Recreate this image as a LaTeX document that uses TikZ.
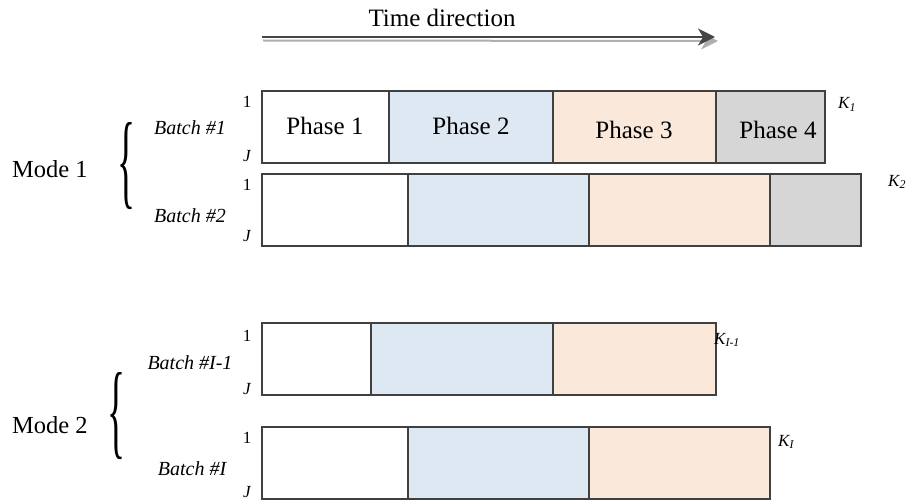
\documentclass[tikz,border=0pt]{standalone}
\usepackage{fontspec}
\usepackage{graphicx}
\setmainfont{Liberation Serif}
\usetikzlibrary{arrows.meta}

\definecolor{edge}{RGB}{64,64,64}
\definecolor{cellblue}{RGB}{222,232,242}
\definecolor{cellpeach}{RGB}{250,233,219}
\definecolor{cellgray}{RGB}{214,214,214}
\definecolor{arrowdark}{RGB}{70,70,70}
\definecolor{arrowshade}{RGB}{175,175,175}

\begin{document}
\begin{tikzpicture}[x=1pt,y=-1pt,
  cell/.style={draw=edge, line width=1.4pt},
  phase/.style={font=\fontsize{25}{28}\selectfont, anchor=base, inner sep=0pt},
  idx/.style={font=\fontsize{17}{20}\selectfont, anchor=base, inner sep=0pt},
  batch/.style={font=\fontsize{20}{24}\selectfont\itshape, anchor=base, inner sep=0pt},
  klabel/.style={font=\fontsize{17}{20}\selectfont\itshape, anchor=base west, inner sep=0pt},
  mode/.style={font=\fontsize{24.5}{28}\selectfont, anchor=base west, inner sep=0pt},
  brace/.style={inner sep=0pt, font=\fontsize{66}{66}\selectfont},
  timeline/.style={line width=2.2pt, draw=arrowdark,
    -{Stealth[length=17pt,width=17pt,inset=5pt]}},
  timeshade/.style={line width=2pt, draw=arrowshade,
    -{Stealth[length=17pt,width=17pt,inset=5pt]}}]

\useasboundingbox (0,0) rectangle (911,503);

% time direction arrow with its drop shadow
\coordinate (ts) at (262,37);
\coordinate (te) at (715,37);
\draw[timeshade] ([shift={(1,3.5)}]ts) -- ([shift={(3,4)}]te);
\draw[timeline] (ts) -- (te);
\node[phase] (time) at (442,27) {Time direction};

% batch #1
\filldraw[cell, fill=white]     (262,91) rectangle (389,163);
\filldraw[cell, fill=cellblue]  (389,91) rectangle (553,163);
\filldraw[cell, fill=cellpeach] (553,91) rectangle (716,163);
\filldraw[cell, fill=cellgray]  (716,91) rectangle (825,163);
\node[phase] (p1) at (325,135) {Phase 1};
\node[phase] (p2) at (471,135) {Phase 2};
\node[phase] (p3) at (634,138) {Phase 3};
\node[phase] (p4) at (778,138) {Phase 4};

% batch #2
\filldraw[cell, fill=white]     (262,174) rectangle (408,246);
\filldraw[cell, fill=cellblue]  (408,174) rectangle (589,246);
\filldraw[cell, fill=cellpeach] (589,174) rectangle (770,246);
\filldraw[cell, fill=cellgray]  (770,174) rectangle (861,246);

% batch #I-1
\filldraw[cell, fill=white]     (262,323) rectangle (371,395);
\filldraw[cell, fill=cellblue]  (371,323) rectangle (553,395);
\filldraw[cell, fill=cellpeach] (553,323) rectangle (716,395);

% batch #I
\filldraw[cell, fill=white]     (262,427) rectangle (408,499);
\filldraw[cell, fill=cellblue]  (408,427) rectangle (589,499);
\filldraw[cell, fill=cellpeach] (589,427) rectangle (770,499);

% variable indices 1 ... J
\node[idx] (a1) at (247,107) {1};
\node[idx] (aJ) at (247,161) {\itshape J};
\node[idx] (b1) at (247,190) {1};
\node[idx] (bJ) at (247,241) {\itshape J};
\node[idx] (c1) at (247,341) {1};
\node[idx] (cJ) at (247,394) {\itshape J};
\node[idx] (d1) at (247,443) {1};
\node[idx] (dJ) at (247,497) {\itshape J};

% batch names
\node[batch] (n1) at (190,134) {Batch \#1};
\node[batch] (n2) at (190,222) {Batch \#2};
\node[batch] (n3) at (190,369) {Batch \#I-1};
\node[batch] (n4) at (192,475) {Batch \#I};

% batch lengths
\node[klabel] (k1) at (838,109) {K\textsubscript{1}};
\node[klabel] (k2) at (888,186) {K\textsubscript{2}};
\node[klabel] (k3) at (714,344) {K\textsubscript{I-1}};
\node[klabel] (k4) at (778,446) {K\textsubscript{I}};

% operating modes
\node[mode] (m1) at (12,177) {Mode 1};
\node[brace] (br1) at (126.5,166.5) {\resizebox{18pt}{73pt}{\{}};
\node[mode] (m2) at (12,433) {Mode 2};
\node[brace] (br2) at (116.5,416.5) {\resizebox{18pt}{73pt}{\{}};
\end{tikzpicture}
\end{document}
